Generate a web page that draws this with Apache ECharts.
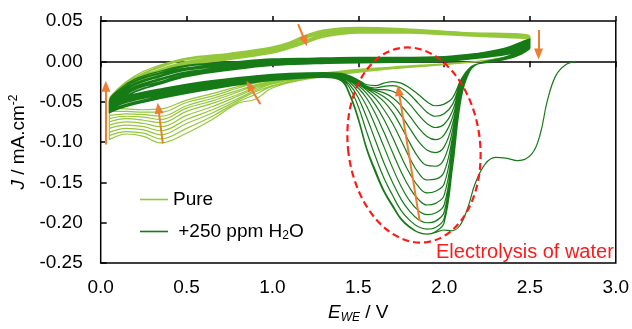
<!DOCTYPE html>
<html>
<head>
<meta charset="utf-8">
<script src="https://cdn.jsdelivr.net/npm/echarts/dist/echarts.min.js"></script>
<style>html,body{margin:0;padding:0;background:#fff;}#c{width:632px;height:329px;}</style>
</head>
<body>
<div id="c"></div>
<script>
// ---------- DATA ----------
const xTicks = [0, 0.5, 1.0, 1.5, 2.0, 2.5, 3.0];
const yTicks = [-0.25, -0.20, -0.15, -0.10, -0.05, 0.00, 0.05];

// Pure: potentials of the forward (anodic) and reverse (cathodic) sweeps
const pureFwdE = [0.05, 0.1, 0.2, 0.3, 0.5, 0.75, 1.0, 1.1, 1.2, 1.3, 1.5, 1.8, 2.1, 2.5];
const pureRevE = [2.5, 2.45, 2.3, 2.0, 1.7, 1.4, 1.2, 1.0, 0.9, 0.8, 0.65, 0.5, 0.35, 0.25, 0.15, 0.05];
const pureFwdJ = [
  [-0.048, -0.034, -0.018, -0.008, 0.004, 0.010, 0.018, 0.024, 0.033, 0.039, 0.042, 0.040, 0.036, 0.031],
  [-0.048, -0.035, -0.020, -0.010, 0.003, 0.009, 0.017, 0.023, 0.032, 0.038, 0.041, 0.039, 0.035, 0.031],
  [-0.049, -0.036, -0.021, -0.011, 0.002, 0.008, 0.016, 0.022, 0.031, 0.037, 0.041, 0.039, 0.035, 0.030],
  [-0.049, -0.037, -0.022, -0.013, 0.000, 0.007, 0.015, 0.021, 0.030, 0.036, 0.040, 0.038, 0.034, 0.030],
  [-0.049, -0.038, -0.024, -0.014, -0.001, 0.006, 0.014, 0.020, 0.029, 0.035, 0.039, 0.038, 0.034, 0.030],
  [-0.050, -0.039, -0.025, -0.016, -0.002, 0.005, 0.013, 0.019, 0.027, 0.034, 0.038, 0.037, 0.033, 0.029],
  [-0.050, -0.040, -0.026, -0.017, -0.003, 0.005, 0.013, 0.018, 0.026, 0.033, 0.038, 0.037, 0.033, 0.029],
  [-0.050, -0.041, -0.027, -0.018, -0.004, 0.004, 0.012, 0.017, 0.025, 0.032, 0.037, 0.036, 0.033, 0.029],
  [-0.050, -0.041, -0.028, -0.019, -0.005, 0.003, 0.011, 0.017, 0.024, 0.031, 0.036, 0.035, 0.032, 0.028],
  [-0.050, -0.042, -0.030, -0.021, -0.006, 0.002, 0.010, 0.016, 0.023, 0.030, 0.035, 0.035, 0.032, 0.028]
];
const pureRevJ = [
  [0.031, 0.013, 0.003, -0.004, -0.009, -0.016, -0.022, -0.033, -0.047, -0.052, -0.072, -0.089, -0.101, -0.093, -0.090, -0.097],
  [0.031, 0.013, 0.003, -0.004, -0.009, -0.015, -0.021, -0.031, -0.041, -0.050, -0.068, -0.083, -0.096, -0.089, -0.087, -0.092],
  [0.030, 0.012, 0.003, -0.004, -0.009, -0.015, -0.021, -0.030, -0.038, -0.048, -0.064, -0.077, -0.091, -0.085, -0.083, -0.088],
  [0.030, 0.012, 0.003, -0.004, -0.008, -0.014, -0.020, -0.028, -0.036, -0.046, -0.060, -0.072, -0.086, -0.081, -0.079, -0.083],
  [0.030, 0.012, 0.002, -0.003, -0.008, -0.014, -0.020, -0.027, -0.034, -0.043, -0.056, -0.067, -0.081, -0.077, -0.075, -0.079],
  [0.030, 0.011, 0.002, -0.003, -0.008, -0.013, -0.019, -0.026, -0.032, -0.041, -0.052, -0.062, -0.076, -0.073, -0.071, -0.075],
  [0.029, 0.011, 0.002, -0.003, -0.007, -0.013, -0.018, -0.025, -0.030, -0.038, -0.049, -0.058, -0.072, -0.069, -0.068, -0.071],
  [0.029, 0.011, 0.002, -0.003, -0.007, -0.012, -0.018, -0.024, -0.029, -0.036, -0.046, -0.055, -0.068, -0.066, -0.065, -0.067],
  [0.029, 0.010, 0.002, -0.003, -0.007, -0.012, -0.017, -0.023, -0.027, -0.033, -0.043, -0.051, -0.063, -0.063, -0.062, -0.062],
  [0.028, 0.010, 0.002, -0.003, -0.007, -0.012, -0.017, -0.022, -0.026, -0.031, -0.040, -0.048, -0.059, -0.060, -0.059, -0.058]
];

// +250 ppm H2O: first sweep from open circuit, then cycles
const waterFirstE = [2.77, 2.71, 2.65, 2.60, 2.56, 2.51, 2.43, 2.36, 2.30, 2.24, 2.18, 2.14, 2.09, 2.04, 2.0, 1.95, 1.9, 1.85, 1.8, 1.75, 1.7, 1.65, 1.6, 1.55, 1.5, 1.45, 1.4, 1.3, 1.1, 0.9, 0.6, 0.35, 0.15, 0.05];
const waterFirstJ = [0.0, -0.004, -0.018, -0.050, -0.090, -0.115, -0.123, -0.120, -0.119, -0.127, -0.152, -0.180, -0.204, -0.210, -0.209, -0.212, -0.214, -0.212, -0.206, -0.196, -0.180, -0.162, -0.138, -0.110, -0.072, -0.042, -0.024, -0.020, -0.022, -0.026, -0.036, -0.046, -0.056, -0.064];
const waterFwdE = [0.05, 0.1, 0.2, 0.35, 0.5, 0.75, 1.0, 1.25, 1.5, 1.75, 2.0, 2.2, 2.35, 2.45, 2.5];
const waterRevE = [2.5, 2.45, 2.35, 2.2, 2.15, 2.1, 2.05, 2.0, 1.95, 1.9, 1.85, 1.8, 1.75, 1.7, 1.65, 1.6, 1.55, 1.5, 1.45, 1.4, 1.3, 1.1, 0.9, 0.6, 0.35, 0.15, 0.05];
const waterFwdJ = [
  [-0.050, -0.036, -0.022, -0.012, -0.005, -0.001, 0.003, 0.004, 0.005, 0.005, 0.006, 0.010, 0.016, 0.024, 0.028],
  [-0.051, -0.038, -0.024, -0.014, -0.006, -0.002, 0.002, 0.004, 0.005, 0.005, 0.006, 0.010, 0.015, 0.023, 0.027],
  [-0.052, -0.039, -0.025, -0.015, -0.008, -0.003, 0.002, 0.003, 0.004, 0.004, 0.005, 0.009, 0.015, 0.022, 0.026],
  [-0.053, -0.040, -0.027, -0.017, -0.009, -0.004, 0.001, 0.003, 0.004, 0.004, 0.005, 0.009, 0.014, 0.021, 0.025],
  [-0.054, -0.041, -0.028, -0.018, -0.010, -0.005, 0.000, 0.002, 0.003, 0.003, 0.004, 0.008, 0.013, 0.020, 0.024],
  [-0.055, -0.043, -0.029, -0.019, -0.011, -0.006, -0.001, 0.001, 0.002, 0.003, 0.004, 0.008, 0.013, 0.020, 0.023],
  [-0.057, -0.044, -0.031, -0.021, -0.013, -0.007, -0.002, 0.001, 0.002, 0.002, 0.003, 0.007, 0.012, 0.019, 0.022],
  [-0.058, -0.045, -0.032, -0.022, -0.014, -0.008, -0.002, 0.000, 0.001, 0.002, 0.003, 0.007, 0.011, 0.018, 0.021],
  [-0.059, -0.047, -0.033, -0.023, -0.015, -0.009, -0.003, -0.001, 0.001, 0.001, 0.002, 0.006, 0.011, 0.017, 0.020],
  [-0.060, -0.048, -0.034, -0.025, -0.016, -0.009, -0.003, -0.001, 0.000, 0.001, 0.002, 0.006, 0.010, 0.016, 0.019],
  [-0.061, -0.049, -0.035, -0.026, -0.017, -0.010, -0.004, -0.002, -0.001, 0.000, 0.001, 0.005, 0.009, 0.015, 0.018],
  [-0.063, -0.050, -0.037, -0.027, -0.018, -0.011, -0.004, -0.002, -0.001, 0.000, 0.001, 0.005, 0.009, 0.014, 0.017],
  [-0.064, -0.052, -0.038, -0.028, -0.019, -0.011, -0.005, -0.003, -0.002, -0.001, 0.000, 0.004, 0.008, 0.013, 0.016]
];
const waterRevJ = [
  [0.024, 0.014, 0.005, -0.003, -0.012, -0.045, -0.130, -0.200, -0.211, -0.214, -0.212, -0.205, -0.195, -0.178, -0.160, -0.135, -0.108, -0.070, -0.040, -0.023, -0.020, -0.022, -0.026, -0.036, -0.046, -0.056, -0.064],
  [0.023, 0.013, 0.005, -0.003, -0.012, -0.043, -0.125, -0.195, -0.206, -0.208, -0.205, -0.197, -0.185, -0.166, -0.145, -0.118, -0.088, -0.056, -0.033, -0.022, -0.020, -0.021, -0.025, -0.035, -0.045, -0.055, -0.063],
  [0.022, 0.013, 0.004, -0.003, -0.011, -0.041, -0.120, -0.187, -0.198, -0.200, -0.196, -0.186, -0.171, -0.150, -0.126, -0.098, -0.070, -0.045, -0.029, -0.021, -0.019, -0.021, -0.025, -0.034, -0.044, -0.054, -0.062],
  [0.021, 0.012, 0.004, -0.003, -0.011, -0.040, -0.115, -0.178, -0.188, -0.190, -0.185, -0.173, -0.155, -0.132, -0.106, -0.080, -0.056, -0.038, -0.026, -0.020, -0.019, -0.020, -0.024, -0.033, -0.043, -0.053, -0.061],
  [0.021, 0.012, 0.004, -0.003, -0.010, -0.038, -0.108, -0.166, -0.176, -0.178, -0.171, -0.157, -0.137, -0.113, -0.088, -0.065, -0.046, -0.033, -0.024, -0.019, -0.018, -0.020, -0.023, -0.032, -0.042, -0.051, -0.060],
  [0.020, 0.011, 0.003, -0.003, -0.010, -0.036, -0.100, -0.152, -0.161, -0.163, -0.155, -0.139, -0.118, -0.094, -0.072, -0.054, -0.040, -0.030, -0.023, -0.019, -0.018, -0.019, -0.023, -0.031, -0.041, -0.050, -0.058],
  [0.020, 0.011, 0.003, -0.003, -0.010, -0.034, -0.093, -0.137, -0.146, -0.147, -0.138, -0.120, -0.098, -0.077, -0.060, -0.046, -0.036, -0.028, -0.022, -0.018, -0.017, -0.019, -0.022, -0.030, -0.040, -0.049, -0.057],
  [0.019, 0.011, 0.003, -0.003, -0.009, -0.032, -0.085, -0.121, -0.130, -0.129, -0.119, -0.101, -0.081, -0.063, -0.050, -0.041, -0.034, -0.027, -0.021, -0.018, -0.017, -0.018, -0.021, -0.029, -0.039, -0.048, -0.056],
  [0.019, 0.010, 0.003, -0.003, -0.009, -0.030, -0.077, -0.106, -0.113, -0.110, -0.099, -0.083, -0.067, -0.053, -0.044, -0.038, -0.033, -0.026, -0.021, -0.017, -0.016, -0.018, -0.021, -0.028, -0.038, -0.047, -0.055],
  [0.018, 0.010, 0.002, -0.003, -0.009, -0.028, -0.069, -0.091, -0.097, -0.093, -0.082, -0.068, -0.055, -0.045, -0.039, -0.036, -0.032, -0.026, -0.020, -0.017, -0.016, -0.017, -0.020, -0.027, -0.037, -0.046, -0.054],
  [0.017, 0.010, 0.002, -0.003, -0.008, -0.026, -0.061, -0.078, -0.082, -0.077, -0.066, -0.053, -0.043, -0.037, -0.035, -0.035, -0.032, -0.025, -0.019, -0.016, -0.015, -0.017, -0.019, -0.027, -0.036, -0.045, -0.053],
  [0.017, 0.009, 0.002, -0.003, -0.008, -0.024, -0.053, -0.065, -0.068, -0.063, -0.052, -0.041, -0.033, -0.030, -0.031, -0.033, -0.031, -0.024, -0.018, -0.016, -0.015, -0.016, -0.019, -0.026, -0.035, -0.044, -0.052],
  [0.016, 0.009, 0.002, -0.003, -0.008, -0.022, -0.045, -0.053, -0.055, -0.050, -0.041, -0.033, -0.027, -0.025, -0.027, -0.030, -0.029, -0.023, -0.018, -0.015, -0.014, -0.015, -0.018, -0.025, -0.034, -0.043, -0.050]
];

// Orange arrows (tail -> head), in data units
const arrowTails = [[0.03, -0.103], [0.362, -0.102], [0.93, -0.053], [1.15, 0.046], [2.55, 0.039], [1.858, -0.198]];
const arrowHeads = [[0.03, -0.031], [0.336, -0.058], [0.865, -0.030], [1.19, 0.025], [2.55, 0.009], [1.735, -0.036]];

// ---------- BUILD ----------
const FONT = 'Liberation Sans, Arial, Helvetica, sans-serif';
const PURE = '#94c83a';
const WATER = '#167a16';
const ORANGE = '#ED7D31';

function cycles(fE, fJ, rE, rJ, start) {
  const pts = start ? start.slice() : [];
  for (let k = 0; k < fJ.length; k++) {
    fE.forEach((e, i) => pts.push([e, fJ[k][i]]));
    rE.forEach((e, i) => pts.push([e, rJ[k][i]]));
  }
  return pts;
}
const purePts = cycles(pureFwdE, pureFwdJ, pureRevE, pureRevJ, null);
const firstPts = waterFirstE.map((e, i) => [e, waterFirstJ[i]]);
const waterPts = cycles(waterFwdE, waterFwdJ, waterRevE, waterRevJ, firstPts);

const chart = echarts.init(document.getElementById('c'), null, {renderer: 'canvas'});
const fmtY = v => (Math.abs(v) < 1e-9 ? '0.00' : v.toFixed(2));

const option = {
  animation: false,
  textStyle: {fontFamily: FONT},
  grid: {left: 100, right: 15, top: 21, bottom: 62, show: true, borderColor: '#000', borderWidth: 1.5, backgroundColor: 'transparent'},
  legend: {
    data: ['Pure', '+250 ppm H₂O'],
    orient: 'vertical', left: 140, top: 189, itemGap: 11, padding: 0,
    icon: 'rect', itemWidth: 28, itemHeight: 1.6,
    formatter: n => n === 'Pure' ? '{a|Pure}' : '{a| +250 ppm H}{s|2}{a|O}',
    textStyle: {
      fontFamily: FONT, fontSize: 19, color: '#000', lineHeight: 21,
      rich: {a: {fontFamily: FONT, fontSize: 19, color: '#000', lineHeight: 21}, s: {fontFamily: FONT, fontSize: 12, color: '#000', verticalAlign: 'bottom', lineHeight: 14, padding: [8, 0, 0, 0]}}
    },
    selectedMode: false
  },
  xAxis: [
    {
      type: 'value', min: 0, max: 3, interval: 0.5, position: 'bottom',
      axisLine: {show: false, onZero: false}, axisTick: {show: false}, splitLine: {show: false},
      axisLabel: {margin: 15, fontSize: 19, color: '#000', fontFamily: FONT, formatter: v => v.toFixed(1)},
      name: '{i|E}{sub|WE}{n| / V}', nameLocation: 'middle', nameGap: 36,
      nameTextStyle: {rich: {
        i: {fontFamily: FONT, fontSize: 19, fontStyle: 'italic', color: '#000', lineHeight: 22},
        sub: {fontFamily: FONT, fontSize: 12, fontStyle: 'italic', color: '#000', verticalAlign: 'bottom', lineHeight: 14, padding: [10, 0, 0, 0]},
        n: {fontFamily: FONT, fontSize: 19, color: '#000', lineHeight: 22}
      }}
    },
    {
      type: 'value', min: 0, max: 3, interval: 0.5, position: 'bottom',
      axisLine: {show: true, onZero: true, lineStyle: {color: '#000', width: 1.5}},
      axisTick: {show: true, inside: false, length: 6, lineStyle: {color: '#000', width: 1.5}},
      axisLabel: {show: false}, splitLine: {show: false}
    },
    {
      type: 'value', min: 0, max: 3, interval: 0.5, position: 'top',
      axisLine: {show: false, onZero: true},
      axisTick: {show: true, inside: false, length: 5, lineStyle: {color: '#000', width: 1.5}},
      axisLabel: {show: false}, splitLine: {show: false}
    }
  ],
  yAxis: {
    type: 'value', min: -0.25, max: 0.05, interval: 0.05,
    axisLine: {show: false}, splitLine: {show: false},
    axisTick: {show: true, inside: true, length: 6, lineStyle: {color: '#000', width: 1.5}},
    axisLabel: {margin: 18, fontSize: 19, color: '#000', fontFamily: FONT, formatter: fmtY},
    name: '{i|J}{n| / mA.cm}{sup|-2}', nameLocation: 'middle', nameGap: 64, nameRotate: 90,
    nameTextStyle: {rich: {
      i: {fontFamily: FONT, fontSize: 19, fontStyle: 'italic', color: '#000', lineHeight: 22},
      n: {fontFamily: FONT, fontSize: 19, color: '#000', lineHeight: 22},
      sup: {fontFamily: FONT, fontSize: 12, color: '#000', verticalAlign: 'top', lineHeight: 14, padding: [0, 0, 8, 0]}
    }}
  },
  series: [
    {name: 'Pure', type: 'line', data: purePts, showSymbol: false, symbol: 'none', smooth: 0.4,
     lineStyle: {color: PURE, width: 1.2}, itemStyle: {color: PURE}, silent: true, z: 2},
    {name: '+250 ppm H₂O', type: 'line', data: waterPts, showSymbol: false, symbol: 'none', smooth: 0.4,
     lineStyle: {color: WATER, width: 1.2}, itemStyle: {color: WATER}, silent: true, z: 3},
    {name: 'arrows', type: 'line', data: [], silent: true, z: 5,
     markLine: {
       silent: true, animation: false, symbol: ['none', 'triangle'], symbolSize: [9, 11],
       label: {show: false}, emphasis: {disabled: true},
       lineStyle: {color: ORANGE, width: 2, type: 'solid'},
       data: arrowTails.map((t, i) => [{coord: t}, {coord: arrowHeads[i]}])
     }}
  ],
  graphic: [
    {type: 'ellipse', x: 414, y: 145, rotation: 0.125, shape: {cx: 0, cy: 0, rx: 66, ry: 98},
     style: {fill: 'none', stroke: '#ff1a1a', lineWidth: 2.2, lineDash: [7, 4]}, z: 100, silent: true},
    {type: 'text', left: 436, top: 242, z: 101, silent: true,
     style: {text: 'Electrolysis of water', fill: '#ff1a1a', font: '20px ' + FONT}}
  ]
};
chart.setOption(option);
</script>
</body>
</html>
